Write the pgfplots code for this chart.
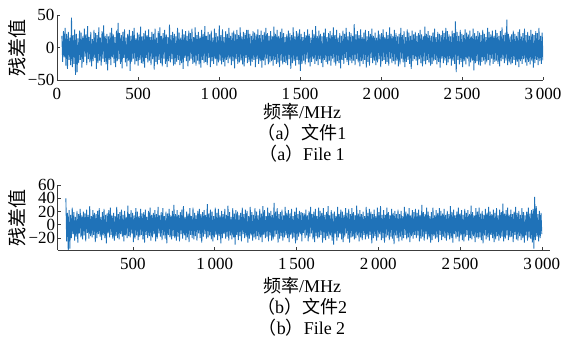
\documentclass[border=0pt]{standalone}
\usepackage{pgfplots}
\pgfplotsset{compat=1.18}
\usepackage{fontspec}
\setmainfont{Liberation Serif}
\newfontfamily\cjk{Noto Sans CJK SC}
\definecolor{mblue}{RGB}{31,114,184}
\definecolor{axgray}{RGB}{60,60,60}
\begin{document}
\begin{tikzpicture}
\useasboundingbox (0pt,0pt) rectangle (568pt,347pt);
\pgfplotsset{
  myax/.style={
    scale only axis,
    axis x line*=bottom, axis y line*=left,
    tick align=inside,
    major tick length=3pt,
    axis line style={axgray,line width=0.6pt},
    tick style={axgray,line width=0.6pt},
    tick label style={font=\fontsize{17}{17}\selectfont},
    xticklabel style={yshift=-5pt},
    yticklabel style={xshift=1pt},
    clip=true,
  }
}
% ---------- (a) File 1 ----------
\begin{axis}[myax,
  at={(57pt,267pt)}, anchor=south west,
  width=486pt, height=65pt,
  xmin=0, xmax=3000, ymin=-50, ymax=50,
  xtick={0,500,1000,1500,2000,2500,3000},
  xticklabels={0,500,1\,000,1\,500,2\,000,2\,500,3\,000},
  ytick={-50,0,50},
  yticklabels={−50,0,50},
]
\addplot[mblue, line width=0.9pt, line join=bevel] table[header=false, row sep=\\, y index=0, x expr=30+\coordindex*4.958] {
18\\-22\\25\\-15\\30\\-28\\21\\-33\\24\\-19\\15\\-27\\46\\-30\\19\\-25\\28\\-42\\21\\-38\\
14\\-24\\26\\-19\\23\\-31\\17\\-22\\29\\-14\\20\\-27\\33\\-18\\16\\-23\\24\\-29\\13\\-21\\
27\\-16\\22\\-33\\19\\-24\\31\\-20\\15\\-28\\25\\-17\\34\\-22\\18\\-26\\21\\-35\\17\\-19\\
23\\-27\\30\\-15\\20\\-24\\16\\-30\\26\\-21\\38\\-18\\22\\-25\\19\\-32\\24\\-16\\28\\-23\\
15\\-29\\21\\-20\\27\\-36\\18\\-22\\25\\-17\\30\\-26\\14\\-21\\23\\-28\\20\\-19\\32\\-24\\
17\\-25\\22\\-31\\26\\-16\\19\\-23\\28\\-20\\16\\-27\\24\\-18\\21\\-34\\29\\-22\\15\\-26\\
25\\-19\\31\\-24\\18\\-29\\22\\-17\\27\\-25\\20\\-30\\16\\-21\\35\\-23\\19\\-18\\24\\-28\\
21\\-26\\17\\-22\\30\\-19\\23\\-27\\15\\-24\\28\\-33\\20\\-16\\25\\-21\\18\\-29\\26\\-20\\
22\\-17\\29\\-25\\16\\-23\\31\\-28\\19\\-20\\24\\-26\\17\\-31\\27\\-19\\21\\-24\\33\\-22\\
18\\-27\\24\\-16\\20\\-30\\26\\-21\\15\\-25\\29\\-18\\22\\-28\\17\\-23\\34\\-20\\19\\-26\\
28\\-22\\16\\-29\\25\\-19\\21\\-24\\30\\-17\\18\\-27\\23\\-21\\26\\-32\\20\\-18\\27\\-25\\
19\\-23\\31\\-20\\17\\-26\\24\\-29\\22\\-16\\27\\-24\\27\\-22\\21\\-28\\18\\-22\\25\\-19\\
23\\-30\\20\\-18\\28\\-25\\19\\-21\\26\\-31\\19\\-20\\24\\-27\\30\\-17\\22\\-26\\18\\-23\\
25\\-21\\17\\-28\\32\\-19\\21\\-25\\27\\-23\\18\\-30\\24\\-20\\29\\-26\\22\\-22\\16\\-24\\
20\\-27\\26\\-18\\22\\-33\\19\\-24\\31\\-21\\17\\-28\\25\\-19\\23\\-26\\28\\-36\\21\\-25\\
16\\-20\\24\\-26\\19\\-17\\28\\-23\\21\\-29\\15\\-22\\27\\-18\\20\\-25\\33\\-21\\18\\-27\\
26\\-18\\21\\-24\\17\\-30\\23\\-19\\29\\-22\\16\\-26\\22\\-20\\25\\-28\\19\\-17\\31\\-23\\
19\\-28\\27\\-21\\15\\-24\\22\\-32\\18\\-19\\26\\-25\\21\\-16\\30\\-22\\17\\-27\\24\\-20\\
22\\-24\\18\\-20\\36\\-27\\20\\-18\\25\\-23\\19\\-29\\28\\-21\\16\\-25\\23\\-19\\27\\-31\\
17\\-22\\25\\-28\\21\\-16\\29\\-24\\18\\-20\\23\\-27\\15\\-23\\26\\-18\\20\\-30\\22\\-21\\
28\\-19\\16\\-25\\24\\-22\\19\\-28\\31\\-17\\21\\-24\\18\\-21\\27\\-26\\22\\-20\\17\\-29\\
21\\-26\\30\\-17\\19\\-23\\25\\-30\\16\\-22\\28\\-19\\23\\-25\\18\\-33\\26\\-21\\20\\-18\\
24\\-20\\18\\-27\\22\\-18\\27\\-24\\20\\-29\\17\\-21\\32\\-26\\21\\-19\\25\\-23\\19\\-28\\
18\\-25\\23\\-21\\29\\-19\\16\\-26\\24\\-22\\21\\-31\\19\\-17\\26\\-24\\22\\-20\\30\\-27\\
25\\-23\\20\\-18\\17\\-28\\26\\-21\\22\\-25\\40\\-38\\24\\-19\\18\\-26\\27\\-22\\21\\-30\\
19\\-21\\28\\-26\\23\\-17\\20\\-29\\26\\-23\\17\\-20\\29\\-35\\22\\-24\\18\\-21\\25\\-27\\
23\\-28\\19\\-22\\27\\-20\\21\\-26\\16\\-23\\30\\-19\\24\\-28\\20\\-17\\26\\-25\\18\\-22\\
27\\-20\\22\\-25\\18\\-29\\25\\-21\\31\\-18\\19\\-24\\23\\-20\\43\\-27\\21\\-23\\17\\-26\\
20\\-24\\26\\-19\\21\\-27\\18\\-22\\24\\-30\\28\\-21\\17\\-25\\22\\-18\\29\\-23\\19\\-28\\
24\\-22\\18\\-26\\27\\-20\\21\\-31\\19\\-24\\25\\-19\\22\\-27\\30\\-21\\18\\-25\\23\\-20\\
};
\end{axis}
% ---------- (b) File 2 ----------
\begin{axis}[myax,
  at={(57.7pt,97pt)}, anchor=south west,
  width=492.3pt, height=65pt,
  xmin=40, xmax=3050, ymin=-38, ymax=60,
  xtick={500,1000,1500,2000,2500,3000},
  xticklabels={500,1\,000,1\,500,2\,000,2\,500,3\,000},
  ytick={-20,0,20,40,60},
  yticklabels={−20,0,20,40,60},
]
\addplot[mblue, line width=0.9pt, line join=bevel] table[header=false, row sep=\\, y index=0, x expr=90+\coordindex*4.858] {
40\\-25\\18\\-40\\22\\-36\\15\\-20\\26\\-14\\19\\-24\\12\\-18\\21\\-27\\16\\-13\\24\\-19\\
14\\-22\\20\\-16\\17\\-25\\23\\-12\\15\\-21\\28\\-17\\13\\-19\\22\\-15\\18\\-26\\16\\-20\\
21\\-14\\25\\-18\\12\\-23\\19\\-16\\24\\-20\\15\\-28\\17\\-13\\22\\-19\\26\\-15\\14\\-21\\
18\\-24\\13\\-17\\27\\-20\\16\\-22\\19\\-14\\23\\-18\\15\\-25\\21\\-16\\12\\-20\\29\\-17\\
16\\-19\\22\\-13\\18\\-26\\14\\-21\\25\\-16\\20\\-23\\13\\-18\\24\\-15\\17\\-22\\19\\-27\\
23\\-15\\12\\-20\\21\\-17\\26\\-24\\15\\-19\\18\\-14\\22\\-25\\16\\-21\\27\\-13\\14\\-18\\
19\\-23\\25\\-16\\13\\-21\\20\\-28\\17\\-15\\24\\-19\\14\\-22\\21\\-17\\30\\-20\\16\\-24\\
22\\-18\\15\\-25\\19\\-14\\23\\-21\\28\\-16\\12\\-23\\20\\-19\\17\\-26\\25\\-15\\13\\-20\\
26\\-22\\18\\-17\\14\\-24\\21\\-13\\24\\-20\\16\\-27\\19\\-18\\22\\-14\\15\\-21\\31\\-19\\
17\\-16\\23\\-22\\20\\-25\\13\\-19\\26\\-15\\18\\-23\\24\\-17\\14\\-28\\21\\-20\\16\\-14\\
24\\-21\\15\\-18\\29\\-24\\19\\-16\\12\\-22\\25\\-19\\17\\-30\\22\\-15\\20\\-23\\14\\-17\\
18\\-25\\26\\-14\\16\\-20\\23\\-18\\21\\-27\\13\\-21\\27\\-16\\19\\-24\\15\\-19\\25\\-22\\
20\\-17\\14\\-23\\24\\-19\\17\\-26\\28\\-15\\22\\-20\\13\\-18\\26\\-25\\18\\-16\\21\\-24\\
15\\-22\\33\\-18\\20\\-14\\25\\-27\\16\\-21\\19\\-17\\23\\-24\\14\\-19\\27\\-16\\18\\-20\\
22\\-26\\17\\-15\\24\\-21\\13\\-19\\20\\-28\\26\\-23\\16\\-18\\21\\-14\\19\\-25\\18\\-12\\
17\\-20\\23\\-16\\14\\-25\\21\\-18\\27\\-13\\16\\-22\\20\\-26\\24\\-17\\13\\-21\\26\\-19\\
21\\-15\\18\\-27\\25\\-20\\15\\-23\\19\\-17\\28\\-21\\14\\-16\\22\\-24\\17\\-30\\20\\-14\\
13\\-24\\27\\-19\\16\\-14\\23\\-22\\20\\-26\\15\\-18\\25\\-13\\18\\-21\\24\\-27\\16\\-19\\
25\\-18\\19\\-22\\14\\-20\\29\\-16\\17\\-25\\22\\-19\\16\\-23\\20\\-15\\13\\-22\\27\\-18\\
18\\-21\\24\\-15\\20\\-28\\16\\-20\\23\\-17\\13\\-24\\26\\-19\\19\\-14\\28\\-23\\15\\-20\\
22\\-27\\15\\-19\\26\\-16\\19\\-23\\14\\-18\\24\\-21\\18\\-29\\21\\-16\\16\\-20\\23\\-25\\
16\\-18\\21\\-24\\13\\-20\\27\\-15\\20\\-22\\17\\-19\\25\\-26\\14\\-17\\22\\-21\\19\\-15\\
24\\-20\\18\\-16\\23\\-25\\15\\-21\\30\\-18\\19\\-24\\16\\-14\\26\\-22\\20\\-19\\13\\-27\\
19\\-23\\26\\-17\\14\\-21\\22\\-19\\18\\-26\\25\\-15\\21\\-23\\17\\-18\\24\\-20\\15\\-24\\
21\\-16\\16\\-22\\28\\-20\\19\\-27\\23\\-14\\14\\-21\\20\\-18\\26\\-25\\17\\-16\\22\\-23\\
15\\-25\\24\\-18\\18\\-15\\22\\-24\\16\\-20\\29\\-22\\19\\-17\\14\\-26\\25\\-19\\20\\-21\\
26\\-19\\17\\-23\\21\\-28\\15\\-16\\24\\-22\\18\\-19\\27\\-24\\20\\-15\\16\\-20\\23\\-26\\
18\\-22\\25\\-17\\14\\-24\\23\\-20\\19\\-18\\32\\-25\\17\\-21\\22\\-16\\26\\-23\\15\\-19\\
23\\-18\\16\\-26\\20\\-15\\27\\-22\\18\\-24\\21\\-17\\15\\-23\\25\\-20\\19\\-27\\14\\-16\\
20\\-24\\26\\-19\\17\\-21\\22\\-27\\24\\-36\\42\\-23\\28\\-18\\16\\-25\\21\\-20\\18\\-14\\
};
\end{axis}
% ---------- labels ----------
\node[rotate=90, font=\cjk\fontsize{19}{19}\selectfont] at (17pt,299pt) {残差值};
\node[rotate=90, font=\cjk\fontsize{19}{19}\selectfont] at (17pt,129pt) {残差值};
\node[font=\fontsize{18}{18}\selectfont] at (302pt,235pt) {{\cjk 频率}/MHz};
\node[font=\fontsize{18}{18}\selectfont] at (302pt,214pt) {{\cjk （}a{\cjk ）文件}1};
\node[font=\fontsize{18}{18}\selectfont] at (302pt,193pt) {{\cjk （}a{\cjk ）}File 1};
\node[font=\fontsize{18}{18}\selectfont] at (302pt,61pt) {{\cjk 频率}/MHz};
\node[font=\fontsize{18}{18}\selectfont] at (302pt,40pt) {{\cjk （}b{\cjk ）文件}2};
\node[font=\fontsize{18}{18}\selectfont] at (302pt,19pt) {{\cjk （}b{\cjk ）}File 2};
\end{tikzpicture}
\end{document}
